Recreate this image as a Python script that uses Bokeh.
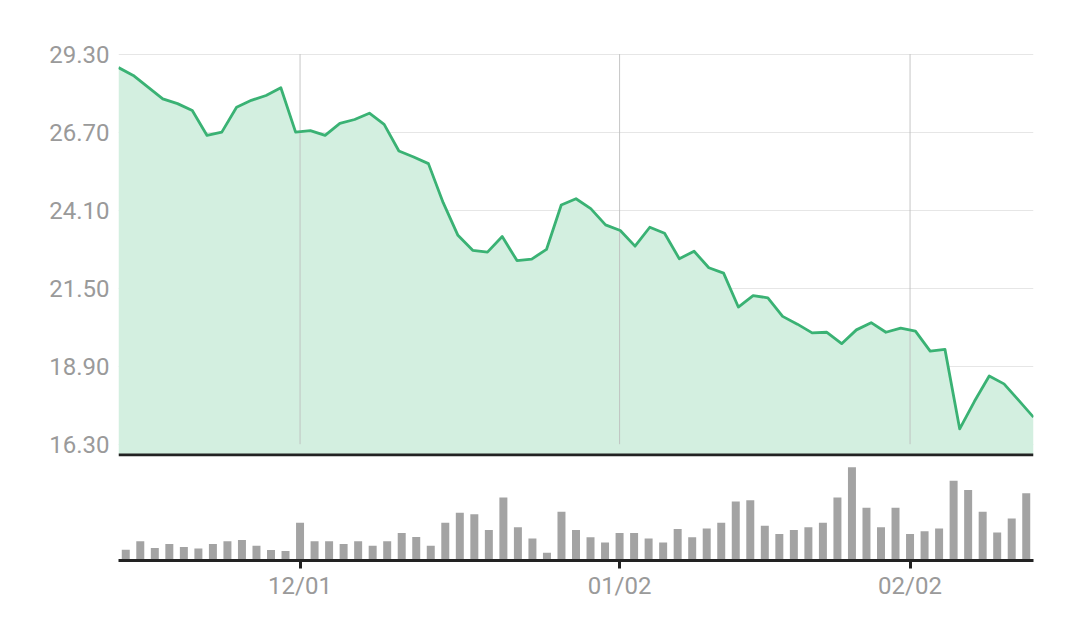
from bokeh.plotting import figure
from bokeh.layouts import column
from bokeh.models import ColumnDataSource, FixedTicker, NumeralTickFormatter, Span, Range1d
from bokeh.embed import file_html
from bokeh.resources import INLINE

# ---- data ----
price = [28.85, 28.59, 28.20, 27.81, 27.65, 27.42, 26.59, 26.70, 27.53, 27.76,
         27.92, 28.18, 26.70, 26.75, 26.59, 26.99, 27.12, 27.33, 26.96, 26.07,
         25.87, 25.65, 24.35, 23.26, 22.76, 22.70, 23.22, 22.42, 22.47, 22.79,
         24.27, 24.48, 24.15, 23.61, 23.42, 22.90, 23.53, 23.33, 22.48, 22.73,
         22.18, 22.00, 20.87, 21.25, 21.18, 20.56, 20.30, 20.01, 20.03, 19.65,
         20.11, 20.35, 20.03, 20.17, 20.07, 19.40, 19.46, 16.81, 17.73, 18.57,
         18.31, 17.76, 17.20]
volume = [10.7, 19.0, 12.3, 16.3, 13.3, 12.0, 16.3, 19.0, 20.3, 14.7,
          10.3, 9.3, 37.3, 19.0, 19.0, 16.3, 19.0, 14.7, 19.0, 27.3,
          23.3, 14.7, 37.3, 47.3, 45.7, 30.3, 62.3, 33.0, 21.7, 7.7,
          48.3, 30.3, 23.0, 17.7, 27.3, 27.3, 21.7, 17.7, 31.3, 23.0,
          31.7, 37.3, 58.3, 59.7, 34.3, 26.3, 30.3, 33.0, 37.3, 62.3,
          92.3, 52.3, 33.0, 52.3, 26.3, 29.0, 31.7, 79.0, 69.7, 48.3,
          27.7, 41.7, 66.7]
tick_index = [12, 34, 54]
tick_labels = ["12/01", "01/02", "02/02"]
price_ticks = [16.30, 18.90, 21.50, 24.10, 26.70, 29.30]

N = len(price)
idx = list(range(N))

FONT = "Roboto"
LABEL_COLOR = "#9a9a9a"
LINE_COLOR = "#3ab274"
FILL_COLOR = "#d3efe0"
BAR_COLOR = "#a3a3a3"
DARK = "#222222"

y_lo, y_hi = 15.89, 29.62
base_level = 15.94

# ---- top: price area ----
p = figure(width=1072, height=460, output_backend="svg", toolbar_location=None,
           x_range=Range1d(0, N - 1), y_range=Range1d(y_lo, y_hi),
           x_axis_location=None, min_border_left=118, min_border_right=39,
           min_border_top=44, min_border_bottom=4)
p.outline_line_color = None
p.background_fill_color = "white"
p.border_fill_color = "white"

src = ColumnDataSource(dict(x=idx, y=price, base=[base_level] * N))
p.varea(x="x", y1="base", y2="y", source=src, fill_color=FILL_COLOR, fill_alpha=1.0)

# vertical grid lines aligned with the volume chart's category ticks
vx = [(i + 0.5) * (N - 1) / N for i in tick_index]
p.segment(x0=vx, y0=[price_ticks[0]] * len(vx), x1=vx, y1=[price_ticks[-1]] * len(vx),
          line_color="#bdbdbd", line_width=1, line_alpha=0.85)

p.line(x="x", y="y", source=src, line_color=LINE_COLOR, line_width=2.8, line_join="round")

p.add_layout(Span(location=base_level, dimension="width", line_color=DARK, line_width=3))

p.xgrid.visible = False
p.ygrid.ticker = FixedTicker(ticks=price_ticks)
p.ygrid.grid_line_color = "#e6e6e6"
p.ygrid.grid_line_width = 1
p.yaxis.ticker = FixedTicker(ticks=price_ticks)
p.yaxis.formatter = NumeralTickFormatter(format="0.00")
p.yaxis.axis_line_color = None
p.yaxis.major_tick_line_color = None
p.yaxis.major_tick_out = 0
p.yaxis.major_tick_in = 0
p.yaxis.minor_tick_line_color = None
p.yaxis.minor_tick_out = 0
p.yaxis.major_label_text_font = FONT
p.yaxis.major_label_text_font_size = "24px"
p.yaxis.major_label_text_color = LABEL_COLOR
p.yaxis.major_label_standoff = 9

# ---- bottom: volume bars ----
p2 = figure(width=1072, height=142, output_backend="svg", toolbar_location=None,
            x_range=Range1d(-0.5, N - 0.5), y_range=Range1d(0, 99),
            min_border_left=118, min_border_right=39, min_border_top=0, min_border_bottom=10)
p2.outline_line_color = None
p2.background_fill_color = "white"
p2.border_fill_color = "white"
p2.vbar(x=idx, top=volume, width=0.55, fill_color=BAR_COLOR, line_color=None)
p2.grid.visible = False
p2.yaxis.visible = False
p2.xaxis.ticker = FixedTicker(ticks=tick_index)
p2.xaxis.major_label_overrides = {i: t for i, t in zip(tick_index, tick_labels)}
p2.xaxis.axis_line_color = DARK
p2.xaxis.axis_line_width = 3
p2.xaxis.major_tick_line_color = DARK
p2.xaxis.major_tick_line_width = 3
p2.xaxis.major_tick_in = 0
p2.xaxis.major_tick_out = 8
p2.xaxis.minor_tick_line_color = None
p2.xaxis.major_label_text_font = FONT
p2.xaxis.major_label_text_font_size = "24px"
p2.xaxis.major_label_text_color = LABEL_COLOR
p2.xaxis.major_label_standoff = 3

layout = column(p, p2, spacing=0)

open("out.html", "w").write(file_html(layout, INLINE))
